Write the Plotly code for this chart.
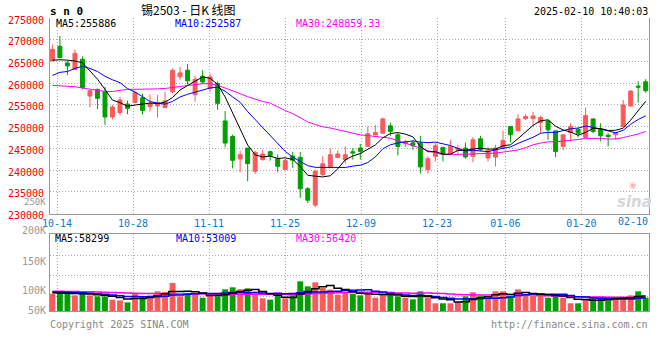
import plotly.graph_objects as go

# ---------------- data ----------------
dates = [
    "2024-10-11", "2024-10-14", "2024-10-15", "2024-10-16", "2024-10-17", "2024-10-18",
    "2024-10-21", "2024-10-22", "2024-10-23", "2024-10-24", "2024-10-25",
    "2024-10-28", "2024-10-29", "2024-10-30", "2024-10-31", "2024-11-01",
    "2024-11-04", "2024-11-05", "2024-11-06", "2024-11-07", "2024-11-08",
    "2024-11-11", "2024-11-12", "2024-11-13", "2024-11-14", "2024-11-15",
    "2024-11-18", "2024-11-19", "2024-11-20", "2024-11-21", "2024-11-22",
    "2024-11-25", "2024-11-26", "2024-11-27", "2024-11-28", "2024-11-29",
    "2024-12-02", "2024-12-03", "2024-12-04", "2024-12-05", "2024-12-06",
    "2024-12-09", "2024-12-10", "2024-12-11", "2024-12-12", "2024-12-13",
    "2024-12-16", "2024-12-17", "2024-12-18", "2024-12-19", "2024-12-20",
    "2024-12-23", "2024-12-24", "2024-12-25", "2024-12-26", "2024-12-27",
    "2024-12-30", "2024-12-31", "2025-01-02", "2025-01-03",
    "2025-01-06", "2025-01-07", "2025-01-08", "2025-01-09", "2025-01-10",
    "2025-01-13", "2025-01-14", "2025-01-15", "2025-01-16", "2025-01-17",
    "2025-01-20", "2025-01-21", "2025-01-22", "2025-01-23", "2025-01-24",
    "2025-01-27", "2025-02-05", "2025-02-06", "2025-02-07", "2025-02-10",
]

open_ = [
    265130, 268480, 264670, 263150, 265510, 257050, 258570, 258120, 252250, 253240,
    255220, 255600, 256670, 254610, 254770, 254390, 258040, 261470, 262990, 257350,
    261620, 258800, 259950, 251340, 247760, 242580, 245090, 239760, 242430, 244250,
    242650, 240160, 243250, 242960, 235750, 231980, 239000, 240600, 242900, 242420,
    244250, 245090, 245470, 248140, 248520, 250200, 248140, 246080, 246310, 246240,
    240140, 243190, 245250, 243800, 244600, 245090, 243190, 247230, 242810, 243040,
    245090, 250040, 249050, 251870, 251870, 250960, 251340, 249050, 245470, 248670,
    249430, 247530, 251800, 249430, 248060, 248140, 250040, 254770, 259340, 260330,
]
high = [
    268930, 270840, 265130, 267720, 266190, 258500, 258800, 259180, 255000, 256900,
    255990, 258300, 257600, 257400, 257300, 258000, 263450, 263750, 264430, 261700,
    262990, 262230, 260400, 253620, 248200, 244480, 245090, 244480, 244710, 244480,
    243600, 242580, 244250, 244170, 236100, 240140, 243190, 245000, 244550, 245470,
    245090, 246080, 250040, 250420, 252100, 250960, 248520, 247000, 247000, 247910,
    243190, 246240, 245250, 247000, 245820, 246390, 247610, 247910, 245250, 245860,
    249050, 250100, 252860, 252860, 253400, 252560, 251340, 249050, 248200, 250800,
    249660, 254390, 251800, 250800, 248520, 248670, 256140, 258420, 260480, 260940,
]
low = [
    265130, 265730, 261850, 262990, 258570, 254460, 254010, 250420, 251720, 252710,
    252860, 255380, 252860, 253500, 252150, 254390, 257660, 260780, 259720, 255750,
    259800, 258020, 253900, 245270, 240400, 239520, 237470, 239150, 242200, 242200,
    239520, 240140, 240520, 233600, 232450, 231530, 238620, 240520, 242800, 241510,
    242430, 242430, 245470, 248140, 248520, 247910, 243420, 245320, 244710, 239230,
    239230, 242050, 242050, 243800, 243760, 242660, 241820, 244330, 242050, 240900,
    245000, 246390, 249050, 251570, 250200, 248520, 247000, 243040, 244560, 246620,
    247610, 247530, 248520, 246620, 245470, 247000, 250040, 254610, 255530, 257810,
]
close = [
    267790, 265890, 263980, 266880, 259030, 258270, 256520, 252250, 254540, 256140,
    254230, 257810, 253700, 255380, 255530, 255910, 262990, 262380, 260550, 260930,
    260300, 261450, 255380, 246240, 242270, 243570, 241510, 244100, 243720, 243340,
    240900, 242200, 242300, 235720, 233100, 239750, 241480, 243560, 243750, 243560,
    243950, 244330, 248370, 248670, 251800, 248900, 245470, 246620, 245630, 240750,
    242660, 245630, 243800, 245470, 245050, 243040, 247000, 244710, 244480, 245090,
    246850, 248140, 251800, 252330, 252480, 252100, 249280, 244330, 248140, 250040,
    248520, 252560, 248900, 247910, 247760, 248670, 255000, 258190, 259110, 258270,
]
volume = [
    68600, 71300, 68600, 62000, 71300, 62000, 58000, 58000, 44900, 42200,
    34300, 68600, 58000, 62000, 77900, 75200, 110900, 58000, 71300, 64700,
    52800, 62000, 58000, 85800, 93700, 85800, 89800, 68600, 50200, 44900,
    60700, 50200, 62000, 117500, 97700, 113500, 91100, 84500, 64700, 71300,
    68600, 62000, 75200, 52800, 68600, 62000, 58000, 52800, 46200, 77900,
    52800, 30400, 30400, 30400, 35600, 58000, 73900, 60700, 52800, 77900,
    77900, 58000, 85800, 64700, 59400, 64700, 52800, 66000, 52800, 30400,
    30400, 46200, 52800, 52800, 42200, 52800, 52800, 62000, 77900, 52800,
]

ma5 = [
    265300, 265400, 265300, 265100, 264720, 262820, 260940, 258600, 256120, 255540,
    254720, 254980, 255260, 255440, 255320, 255660, 256700, 258440, 259480, 260560,
    261440, 261140, 259740, 256860, 253140, 249800, 245800, 243540, 243040, 243240,
    242700, 242840, 242480, 240880, 238840, 238620, 238460, 238720, 240320, 242420,
    243260, 243840, 244800, 245800, 247440, 248420, 248660, 248300, 247680, 245480,
    244240, 244260, 243700, 243680, 244540, 244600, 244880, 245060, 244860, 244860,
    245620, 245840, 247260, 248820, 250300, 251360, 251600, 250100, 249260, 248760,
    248040, 248700, 249620, 249580, 249140, 249180, 249660, 251520, 253760, 255860,
]
ma10 = [
    261800, 262500, 262700, 263400, 263900, 263400, 262700, 261600, 260800, 260130,
    258770, 257960, 256930, 255780, 255430, 255190, 255840, 256850, 257460, 257940,
    258550, 258920, 259090, 258170, 256850, 255620, 253470, 251640, 249950, 248190,
    246250, 244320, 243010, 241960, 241040, 240660, 240650, 240600, 240600, 240630,
    240940, 241150, 241760, 243060, 244930, 245840, 246250, 246550, 246740, 246460,
    246330, 246460, 246000, 245680, 245010, 244420, 244570, 244380, 244270, 244700,
    245110, 245360, 246160, 246840, 247580, 248490, 248720, 248680, 249040, 249530,
    249700, 250150, 249860, 249420, 248950, 248610, 249180, 250570, 251670, 252500,
]
ma30 = [
    259500, 259400, 259300, 259200, 258900, 258600, 258300, 258100, 258100, 258400,
    258600, 258600, 258600, 258700, 258700, 258800, 259000, 259200, 259500, 259700,
    259900, 259900, 259500, 258900, 258300, 257600, 256900, 256300, 255800, 255420,
    254520, 253730, 253010, 251970, 251110, 250490, 249990, 249700, 249340, 248920,
    248580, 248130, 247950, 247730, 247610, 247370, 246790, 246260, 245760, 245090,
    244510, 243980, 243590, 243570, 243660, 243640, 243820, 243840, 243870, 243930,
    244130, 244320, 244640, 245190, 245840, 246250, 246510, 246540, 246680, 246900,
    247050, 247320, 247340, 247310, 247180, 247170, 247490, 247880, 248330, 248910,
]
vol_ma5 = [
    72000, 71000, 70000, 69000, 68360, 67040, 64380, 62260, 58840, 53020,
    47480, 49600, 49600, 53020, 60160, 68340, 76800, 76800, 78660, 76020,
    71540, 61760, 61760, 64660, 70460, 77060, 82620, 84740, 77620, 67860,
    62840, 54920, 53600, 67060, 77620, 88180, 96360, 100860, 90300, 85020,
    76040, 70220, 68360, 65980, 65440, 64120, 63320, 58840, 57520, 59380,
    57540, 52020, 47540, 44380, 35920, 36960, 45660, 51720, 56200, 64660,
    68640, 65460, 70480, 72860, 69160, 66520, 65480, 61520, 59140, 53340,
    46480, 45160, 42520, 42520, 44880, 49360, 50680, 52520, 57540, 59660,
]
vol_ma10 = [
    75000, 75000, 74000, 73000, 72000, 70000, 68000, 66000, 63000, 60690,
    57260, 56990, 55930, 55930, 56590, 57910, 63200, 63200, 65840, 68090,
    69940, 69280, 69280, 71660, 73240, 74300, 72190, 73250, 71140, 69160,
    69950, 68770, 69170, 72340, 72740, 75510, 75640, 77230, 78680, 81320,
    82110, 83290, 84610, 78140, 75230, 70080, 66770, 63600, 61750, 62410,
    60830, 57670, 53190, 50950, 47650, 47250, 48840, 49630, 50290, 50290,
    52800, 55560, 61100, 64530, 66910, 67580, 65470, 66000, 66000, 61250,
    56500, 55320, 52020, 50830, 49110, 47920, 47920, 47520, 50030, 52270,
]
vol_ma30 = [
    78000, 78000, 77000, 77000, 76000, 76000, 75000, 74000, 73000, 72000,
    71000, 70000, 69000, 69000, 68000, 68000, 68000, 67000, 67000, 67000,
    67000, 67000, 66500, 66500, 66500, 66500, 66300, 66200, 66100, 65980,
    65720, 65010, 64790, 66640, 67520, 69240, 70340, 71230, 71890, 72860,
    74000, 73780, 74350, 74050, 73740, 73300, 71530, 71360, 70520, 70960,
    70960, 69910, 68990, 67140, 65210, 64280, 63750, 63490, 63570, 64670,
    65250, 65510, 66300, 64540, 63260, 61640, 60360, 59740, 59350, 57980,
    56710, 56180, 55440, 55440, 54560, 54250, 54080, 54380, 55440, 54600,
]

tick_dates = ["2024-10-14", "2024-10-28", "2024-11-11", "2024-11-25",
              "2024-12-09", "2024-12-23", "2025-01-06", "2025-01-20"]
tick_labels = ["10-14", "10-28", "11-11", "11-25", "12-09", "12-23", "01-06", "01-20"]
last_label = "02-10"
price_ticks = [230000, 235000, 240000, 245000, 250000, 255000, 260000, 265000, 270000, 275000]
vol_labels = ["250K", "200K", "150K", "100K", "50K"]

# ---------------- style ----------------
RED = "#fa5a5a"
GREEN = "#00a000"
GRID = "#aaaaaa"
AXIS = "#999999"
MONO = "DejaVu Sans Mono"

x = list(range(len(dates)))
tick_pos = [dates.index(d) * 1.012 - 0.4 for d in tick_dates]
bar_colors = [RED if c >= o else GREEN for o, c in zip(open_, close)]

fig = go.Figure()
fig.add_trace(go.Candlestick(
    x=x, open=open_, high=high, low=low, close=close,
    increasing=dict(line=dict(color=RED, width=1), fillcolor=RED),
    decreasing=dict(line=dict(color=GREEN, width=1), fillcolor=GREEN),
    whiskerwidth=0, xaxis="x", yaxis="y", hoverinfo="skip",
))
for vals, col in ((ma30, "#ff00ff"), (ma10, "#0000ff"), (ma5, "#000000")):
    fig.add_trace(go.Scatter(x=x, y=vals, mode="lines", line=dict(color=col, width=1),
                             xaxis="x", yaxis="y", hoverinfo="skip"))

fig.add_trace(go.Bar(x=x, y=volume, marker=dict(color=bar_colors, line=dict(width=0)),
                     width=0.78, xaxis="x2", yaxis="y2", hoverinfo="skip"))
for vals, col in ((vol_ma30, "#ff00ff"), (vol_ma10, "#0000ff"), (vol_ma5, "#000000")):
    fig.add_trace(go.Scatter(x=x, y=vals, mode="lines",
                             line=dict(color=col, width=1.5, shape="hvh"),
                             xaxis="x2", yaxis="y2", hoverinfo="skip"))

# Plot area in page pixels: x 50..649, y 18..311.
def px(v):
    return (v - 50) / 599.0

def py(v):
    return (311 - v) / 293.0

VOL_MAX = 303700
grid_common = dict(showgrid=True, gridcolor=GRID, griddash="1px,2px", gridwidth=1,
                   zeroline=False, ticks="", automargin=False)

fig.update_layout(
    template="none",
    width=660, height=360,
    margin=dict(l=50, r=11, t=18, b=49, pad=0),
    paper_bgcolor="white", plot_bgcolor="white",
    showlegend=False, boxgap=0.25, hovermode=False,
    font=dict(family=MONO, size=10, color="#000000"),
    xaxis=dict(domain=[0, 1], range=[-0.32, 79.44], anchor="y",
               tickmode="array", tickvals=tick_pos, ticktext=tick_labels,
               tickfont=dict(family=MONO, size=10, color="#0a78d2"),
               showline=True, linecolor=AXIS, linewidth=1,
               rangeslider=dict(visible=False), **grid_common),
    yaxis=dict(domain=[py(213.7), 1], range=[230000, 275000], anchor="x",
               tickmode="array", tickvals=price_ticks,
               ticktext=[str(v) for v in price_ticks],
               tickfont=dict(family=MONO, size=10, color="#f00000"),
               ticklabelshift=2, ticklabelstandoff=3,
               showline=True, mirror=True, linecolor=AXIS, linewidth=1,
               **grid_common),
    xaxis2=dict(domain=[0, 1], matches="x", anchor="y2", showticklabels=False,
                tickmode="array", tickvals=tick_pos,
                showline=True, mirror=True, linecolor=AXIS, linewidth=1,
                **grid_common),
    yaxis2=dict(domain=[0, py(234.3)], range=[0, VOL_MAX], anchor="x2",
                tickmode="array",
                tickvals=[VOL_MAX * f for f in (0.195, 0.46, 0.73)],
                showticklabels=False,
                showline=True, mirror=True, linecolor=AXIS, linewidth=1,
                **grid_common),
)

ann = []
def text(s, x0, y0, xanchor="left", color="#000000", size=10, family=MONO, **kw):
    ann.append(dict(text=s, x=x0, y=y0, xref="paper", yref="paper",
                    xanchor=xanchor, yanchor="middle", showarrow=False, borderpad=0,
                    font=dict(family=family, size=size, color=color), **kw))

text("<b>s n 0</b>", px(49), py(11.7), size=11)
text("锡2503 - 日K 线图", px(140), py(9.5), size=12, family="Noto Sans CJK SC")
text("2025-02-10 10:40:03", 1.0, py(11.7), xanchor="right")
text("MA5:255886", px(55), py(24))
text("MA10:252587", px(174), py(24), color="#0000ff")
text("MA30:248859.33", px(295), py(24), color="#ff00ff")
text("MA5:58299", px(54), py(238))
text("MA10:53009", px(175), py(238), color="#0000ff")
text("MA30:56420", px(295), py(238), color="#ff00ff")
for lab, yy, fs in zip(vol_labels, (201.5, 230.7, 261, 290, 310), (9, 10, 10, 10, 10)):
    text(lab, 0, py(yy), xanchor="right", color="#999999", size=fs, xshift=-3)
text(last_label, 1.0, py(221.7), xanchor="right", color="#0a78d2")
text("Copyright 2025 SINA.COM", px(49), py(324), color="#888888")
text("http://finance.sina.com.cn", 1.0, py(324), xanchor="right", color="#888888")
text("<b><i>sina</i></b>", px(634), py(202), xanchor="center", color="#d6d6d6",
     size=15, family="DejaVu Sans")
text("◉", px(633), py(185), xanchor="center", color="#f2bcbc", size=9,
     family="DejaVu Sans")
fig.update_layout(annotations=ann)

# The page body has a default 8px margin; remove it so the figure sits at (0, 0).
fig.write_html("out.html", config={"displayModeBar": False},
               post_script="document.body.style.margin='0';")
